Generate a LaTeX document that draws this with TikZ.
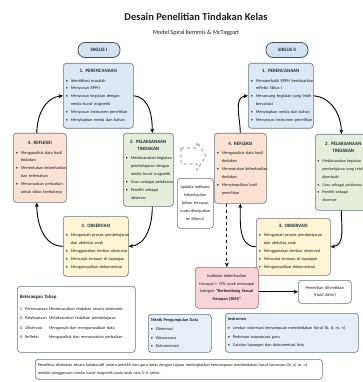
\documentclass[tikz,border=0pt]{standalone}
\usepackage{fontspec}
\setmainfont{Carlito}
\usetikzlibrary{arrows.meta}

\definecolor{bluef}{HTML}{DCE8F5}
\definecolor{pillf}{HTML}{D3E2F3}
\definecolor{greenf}{HTML}{E3EFDA}
\definecolor{peachf}{HTML}{FBE2D2}
\definecolor{yellowf}{HTML}{FDF4D4}
\definecolor{pinkf}{HTML}{F7D5D9}
\definecolor{pinkd}{HTML}{B0606B}
\definecolor{bord}{HTML}{6B737C}
\definecolor{titc}{HTML}{1E1E1E}
\definecolor{boxt}{HTML}{1F2B38}

\newcommand\itm[1]{\par\noindent\makebox[5pt][l]{•}\mbox{#1}}
\newcommand\cnt[1]{\par\noindent\hspace*{5pt}\mbox{#1}}
\newcommand\ttl[1]{{\centering\bfseries\fontsize{4.9}{7}\selectfont\color{boxt}#1\par}\vspace{1.5pt}}

\tikzset{
  box/.style={draw=bord, line width=0.6pt, rounded corners=3pt, anchor=north west,
    inner sep=2.5pt, align=left, font=\fontsize{4.3}{7.9}\selectfont, text=titc},
  cbox/.style={box, align=center},
  pill/.style={draw=bord!70!black, line width=0.8pt, fill=pillf, rounded corners=7pt,
    minimum width=42pt, minimum height=15pt, inner sep=0pt, font=\bfseries\fontsize{5}{6}\selectfont, text=boxt},
  arr/.style={-{Stealth[length=4.5pt,width=4pt]}, line width=0.9pt, black},
}

\begin{document}
\begin{tikzpicture}[x=1pt,y=-1pt]
\useasboundingbox (0,0) rectangle (363,382);
\fill[white] (0,0) rectangle (363,382);

% titles
\node[font=\bfseries\fontsize{10.5}{12}\selectfont, text=titc] (title) at (196,17) {Desain Penelitian Tindakan Kelas};
\node[font=\fontsize{6.2}{7}\selectfont, text=titc] (sub) at (196,33) {Model Spiral Kemmis \& McTaggart};
\node[pill] (s1) at (99,50) {SIKLUS I};
\node[pill] (s2) at (287,50) {SIKLUS II};

% ---------- Siklus I ----------
\node[box, fill=bluef, text width=65pt, minimum height=65pt] (p1) at (63,63)
 {\ttl{1. PERENCANAAN}\itm{Identifikasi masalah}\itm{Menyusun RPPH}\itm{Menyusun kegiatan dengan}\cnt{media huruf magnetik}\itm{Menyusun instrumen penelitian}\itm{Menyiapkan media dan bahan}};
\node[box, fill=greenf, text width=45pt, minimum height=73pt] (e1) at (123,133)
 {\ttl{2. PELAKSANAAN\\TINDAKAN}\itm{Melaksanakan kegiatan}\cnt{pembelajaran dengan}\cnt{media huruf magnetik}\itm{Guru sebagai pelaksana}\itm{Peneliti sebagai}\cnt{observer}};
\node[box, fill=yellowf, text width=60pt, minimum height=60pt] (o1) at (63,216)
 {\ttl{3. OBSERVASI}\itm{Mengamati proses pembelajaran}\cnt{dan aktivitas anak}\itm{Menggunakan lembar observasi}\itm{Mencatat temuan di lapangan}\itm{Mengumpulkan dokumentasi}};
\node[box, fill=peachf, text width=48pt, minimum height=69pt] (r1) at (13,133)
 {\ttl{4. REFLEKSI}\itm{Menganalisis data hasil}\cnt{tindakan}\itm{Menentukan keberhasilan}\cnt{dan kelemahan}\itm{Merumuskan perbaikan}\cnt{untuk siklus berikutnya}};

\draw[arr] (p1.east) to[out=-5,in=90] ([xshift=4pt]e1.north);
\draw[arr] ([xshift=4pt]e1.south) to[out=-90,in=5] (o1.east);
\draw[arr] (o1.west) to[out=180,in=-90] ([xshift=-3pt]r1.south);
\draw[arr] ([xshift=-3pt]r1.north) to[out=90,in=185] (p1.west);

% ---------- middle ----------
\draw[bord, dashed, line width=0.6pt, fill=white]
  (181,148) -- (197,148) -- (197,142) -- (206,156) -- (197,170) -- (197,164) -- (181,164) -- cycle;
\node[cbox, fill=white, text width=31pt, minimum height=50pt, font=\fontsize{4.2}{8}\selectfont] (ap) at (177,178)
 {Apabila indikator\\keberhasilan\\belum tercapai,\\maka dilanjutkan\\ke Siklus II};

% ---------- Siklus II ----------
\node[box, fill=bluef, text width=60pt, minimum height=65pt] (p2) at (248,63)
 {\ttl{1. PERENCANAAN}\itm{Memperbaiki RPPH berdasarkan}\cnt{refleksi Siklus I}\itm{Merancang kegiatan yang lebih}\cnt{bervariasi}\itm{Menyiapkan media dan bahan}\itm{Menyusun instrumen penelitian}};
\node[box, fill=greenf, text width=52pt, minimum height=76pt, inner sep=2pt, font=\fontsize{4.05}{7.9}\selectfont] (e2) at (315,134)
 {\ttl{2. PELAKSANAAN\\TINDAKAN}\itm{Melaksanakan kegiatan}\cnt{pembelajaran yang telah}\cnt{diperbaiki}\itm{Guru sebagai pelaksana}\itm{Peneliti sebagai}\cnt{observer}};
\node[box, fill=yellowf, text width=69pt, minimum height=57pt] (o2) at (256,218)
 {\ttl{3. OBSERVASI}\itm{Mengamati proses pembelajaran}\cnt{dan aktivitas anak}\itm{Menggunakan lembar observasi}\itm{Mencatat temuan di lapangan}\itm{Mengumpulkan dokumentasi}};
\node[box, fill=peachf, text width=47pt, minimum height=70pt] (r2) at (214,133)
 {\ttl{4. REFLEKSI}\itm{Menganalisis data hasil}\cnt{tindakan}\itm{Menentukan keberhasilan}\cnt{tindakan}\itm{Menyimpulkan hasil}\cnt{penelitian}};

\draw[arr] (p2.east) to[out=-5,in=90] ([xshift=-2pt]e2.north);
\draw[arr] ([xshift=-2pt]e2.south) to[out=-90,in=5] (o2.east);
\draw[arr] (o2.west) to[out=180,in=-90] ([xshift=0pt]r2.south);
\draw[arr] ([xshift=0pt]r2.north) to[out=90,in=185] (p2.west);

% indicator
\node[cbox, fill=pinkf, draw=pinkd, text width=58pt, minimum height=41pt, font=\fontsize{4.3}{7.6}\selectfont] (ind) at (195,267)
 {Indikator keberhasilan\\tercapai ≥ 75\% anak mencapai\\kategori \textbf{“Berkembang Sesuai}\\\textbf{Harapan (BSH)”}};
\node[cbox, fill=white, text width=48pt, minimum height=23pt, font=\fontsize{4.4}{7.4}\selectfont] (pen) at (298,280)
 {Penelitian dihentikan\\(Hasil Akhir)};
\draw[arr, dashed, line width=0.7pt] (r2.south -| ind.north) -- (ind.north);
\draw[arr] (ind.east |- pen.west) -- (pen.west);

% ---------- bottom ----------
\node[box, fill=white, text width=113pt, minimum height=66pt, font=\fontsize{4.3}{9.6}\selectfont] (ket) at (17,286)
 {{\bfseries\fontsize{4.9}{6}\selectfont Keterangan Tahap}\par\vspace{2pt}
  \noindent\makebox[29pt][l]{1. Perencanaan}Merencanakan tindakan secara sistematis\par
  \noindent\makebox[29pt][l]{2. Pelaksanaan}Melaksanakan tindakan pembelajaran\par
  \noindent\makebox[29pt][l]{3. Observasi}Mengamati dan mengumpulkan data\par
  \noindent\makebox[29pt][l]{4. Refleksi}Menganalisis dan merumuskan perbaikan\par\vspace{4pt}};
\node[box, fill=bluef!70!white, text width=58pt, minimum height=38pt, font=\fontsize{4.3}{8.6}\selectfont] (tek) at (148,314)
 {{\bfseries Teknik Pengumpulan Data}\itm{Observasi}\itm{Wawancara}\itm{Dokumentasi}};
\node[box, fill=bluef!70!white, text width=128pt, minimum height=39pt, font=\fontsize{4.3}{8.6}\selectfont] (ins) at (225,313)
 {{\bfseries Instrumen}\itm{Lembar observasi kemampuan membedakan huruf (b, d, m, n)}\itm{Pedoman wawancara guru}\itm{Catatan lapangan dan dokumentasi foto}};
\node[box, fill=white, text width=282pt, minimum height=20pt, font=\fontsize{4.2}{8}\selectfont] (note) at (35,359)
 {Penelitian dilakukan secara kolaboratif antara peneliti dan guru kelas dengan tujuan meningkatkan kemampuan membedakan huruf konsonan (b, d, m, n)\\melalui penggunaan media huruf magnetik pada anak usia 5–6 tahun.};
\end{tikzpicture}
\end{document}
